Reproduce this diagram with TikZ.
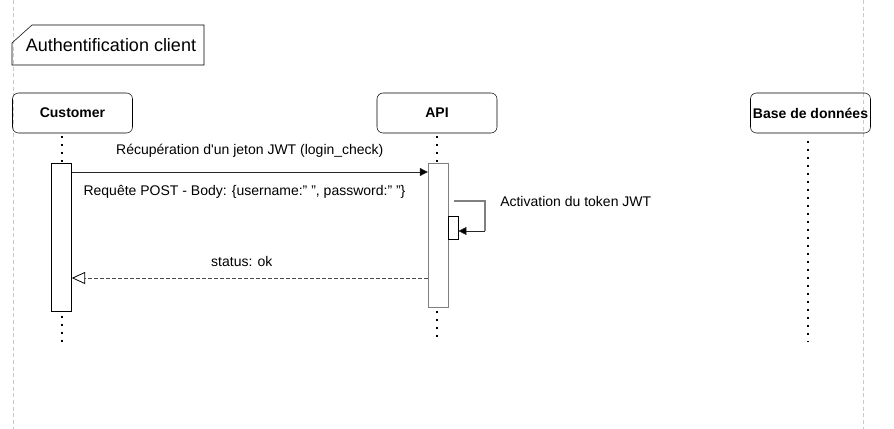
\documentclass[tikz,border=0pt]{standalone}
\usepackage{fontspec}
\setmainfont{Liberation Sans}
\usetikzlibrary{arrows.meta,positioning}

\definecolor{cadre}{HTML}{C8C8C8}
\definecolor{grisbar}{HTML}{808080}

\tikzset{
	acteur/.style={draw,rounded corners=4.5pt,minimum width=90pt,minimum height=30pt,inner sep=0pt,font=\bfseries\fontsize{10.5}{12}\selectfont},
	vie/.style={line width=1.5pt,dash pattern=on 1.5pt off 4.5pt},
	activ/.style={draw,fill=white,inner sep=0pt,minimum width=15pt,anchor=north},
	msgtxt/.style={font=\fontsize{10.5}{12}\selectfont,inner sep=0pt},
	appel/.style={draw=black!85,-{Triangle[length=6pt,width=6pt,fill=black]}},
	retour/.style={draw=black!70,dash pattern=on 3pt off 1.5pt,-{Triangle[open,length=10pt,width=9pt,color=black,line width=0.6pt]}}
}

\begin{document}
\begin{tikzpicture}[x=0.75pt,y=-0.75pt]
	\useasboundingbox (0,0) rectangle (894,429);

	\draw[cadre,dash pattern=on 3pt off 2pt] (13,0) -- (13,429);
	\draw[cadre,dash pattern=on 3pt off 2pt] (863,0) -- (863,429);

	\node[font=\fontsize{13.5}{16}\selectfont,inner sep=0pt] (titre) at (111,45) {Authentification client};
	\draw (12,43) -- (32,25) -- (204,25) -- (204,65) -- (12,65) -- cycle;

	\node[acteur] (cust) at (72.5,113) {Customer};
	\node[acteur] (api) at (437,113) {API};
	\node[acteur] (bdd) at (810.5,113) {Base de données};

	\node[activ,minimum height=111pt] (custAct) at (61.5,163) {};
	\node[activ,draw=grisbar,line width=0.9pt,minimum height=108pt] (apiAct) at (438.5,163) {};
	\node[activ,minimum width=7.5pt,minimum height=17.25pt] (apiSelf) at (453.2,216) {};

	\draw[vie] (62,136) -- (custAct.north -| 62,0);
	\draw[vie] (62,316) -- (62,342);
	\draw[vie] (437,136) -- (apiAct.north -| 437,0);
	\draw[vie] (437,311) -- (437,338);
	\draw[vie] (808,141) -- (808,342);

	\draw[appel] (custAct.east |- 0,172) -- (apiAct.west |- 0,172)
		node[msgtxt,midway,above=11pt] (m1) {Récupération d\textquotesingle un jeton JWT (login\_check)}
		node[msgtxt,midway,below=10pt,xshift=-4pt] (m2) {Requête POST - Body: \{username:" ", password:" "\}};

	\draw[grisbar,line width=0.9pt] (454,201) -- (485,201) -- (485,231);
	\draw[appel] (485,231) -- (apiSelf.east |- 0,231);
	\node[msgtxt,anchor=west] (m3) at (500,201) {Activation du token JWT};

	\draw[retour] (apiAct.west |- 0,278) -- (custAct.east |- 0,278)
		node[msgtxt,midway,above=8pt,xshift=-6pt] (m4) {status: ok};
\end{tikzpicture}
\end{document}
